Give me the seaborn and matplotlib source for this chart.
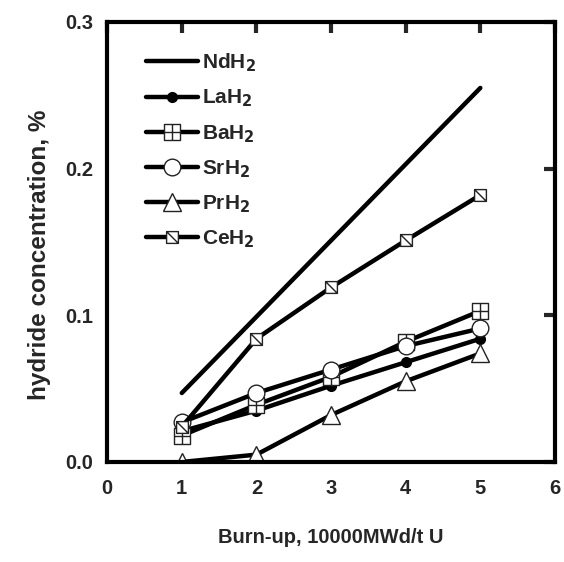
import matplotlib
matplotlib.use("Agg")
import matplotlib.pyplot as plt
from matplotlib.path import Path
import numpy as np
import pandas as pd
import seaborn as sns

# burn-up (10000 MWd/t U)
burnup = [1, 2, 3, 4, 5]

nd_x = [1, 5]
nd_y = [0.047, 0.255]
la_y = [0.021, 0.035, 0.052, 0.068, 0.084]
ba_y = [0.018, 0.039, 0.058, 0.082, 0.103]
sr_y = [0.027, 0.047, 0.063, 0.079, 0.091]
pr_y = [0.000, 0.005, 0.032, 0.055, 0.074]
ce_y = [0.024, 0.084, 0.119, 0.151, 0.182]

labels = ["NdH$_2$", "LaH$_2$", "BaH$_2$", "SrH$_2$", "PrH$_2$", "CeH$_2$"]


def box_marker(diag=False):
    verts = [(-1, -1), (1, -1), (1, 1), (-1, 1), (-1, -1)]
    codes = [Path.MOVETO, Path.LINETO, Path.LINETO, Path.LINETO, Path.CLOSEPOLY]
    if diag:
        verts += [(-1, 1), (1, -1)]
        codes += [Path.MOVETO, Path.LINETO]
    else:
        verts += [(0, -1), (0, 1), (-1, 0), (1, 0)]
        codes += [Path.MOVETO, Path.LINETO, Path.MOVETO, Path.LINETO]
    return Path(verts, codes)


def main() -> None:
    sns.set_theme(style="white")
    plt.rcParams["font.family"] = ["Liberation Sans", "DejaVu Sans"]
    plt.rcParams["font.weight"] = "bold"
    plt.rcParams["mathtext.default"] = "bf"

    fig = plt.figure(figsize=(5.64, 5.62), dpi=100)
    ax = fig.add_axes([0.19, 0.178, 0.794, 0.783])

    series = [
        (nd_x, nd_y, None, 0, "black"),
        (burnup, la_y, "o", 7, "black"),
        (burnup, ba_y, box_marker(), 12, "white"),
        (burnup, sr_y, "o", 12, "white"),
        (burnup, pr_y, "^", 13, "white"),
        (burnup, ce_y, box_marker(diag=True), 8.5, "white"),
    ]
    for (xs, ys, mk, ms, fc), lab in zip(series, labels):
        df = pd.DataFrame({"burnup": xs, "conc": ys})
        kw = dict(linewidth=3.2)
        if mk is not None:
            kw.update(marker=mk, markersize=ms, markerfacecolor=fc,
                      markeredgecolor="#222222" if fc == "white" else "black",
                      markeredgewidth=1.0)
        sns.lineplot(data=df, x="burnup", y="conc", color="black", ax=ax,
                     label=lab, **kw)

    ax.set_xlim(0, 6)
    ax.set_ylim(0, 0.3)
    ax.set_xticks(range(0, 7))
    ax.set_yticks([0.0, 0.1, 0.2, 0.3])
    ax.yaxis.set_major_formatter(matplotlib.ticker.FormatStrFormatter("%.1f"))
    ax.tick_params(direction="in", length=8, width=3, top=True, right=True,
                   labelsize=14.5, pad=10)
    ax.tick_params(axis="x", pad=12)
    for t in ax.get_xticklabels() + ax.get_yticklabels():
        t.set_fontweight("bold")
    for spine in ax.spines.values():
        spine.set_color("black")
        spine.set_linewidth(3)

    ax.set_xlabel("Burn-up, 10000MWd/t U", fontsize=14.5, fontweight="bold", labelpad=22)
    ax.set_ylabel("hydride concentration, %", fontsize=17.5, fontweight="bold")
    ax.yaxis.set_label_coords(-0.125, 0.47)

    leg = ax.legend(loc="upper left", bbox_to_anchor=(0.045, 0.975), frameon=False,
                    handlelength=2.5, labelspacing=0.65, fontsize=15, handletextpad=0.2)
    for t in leg.get_texts():
        t.set_fontweight("bold")

    fig.savefig("out.png", dpi=100, facecolor="white")
    plt.close(fig)


if __name__ == "__main__":
    main()
